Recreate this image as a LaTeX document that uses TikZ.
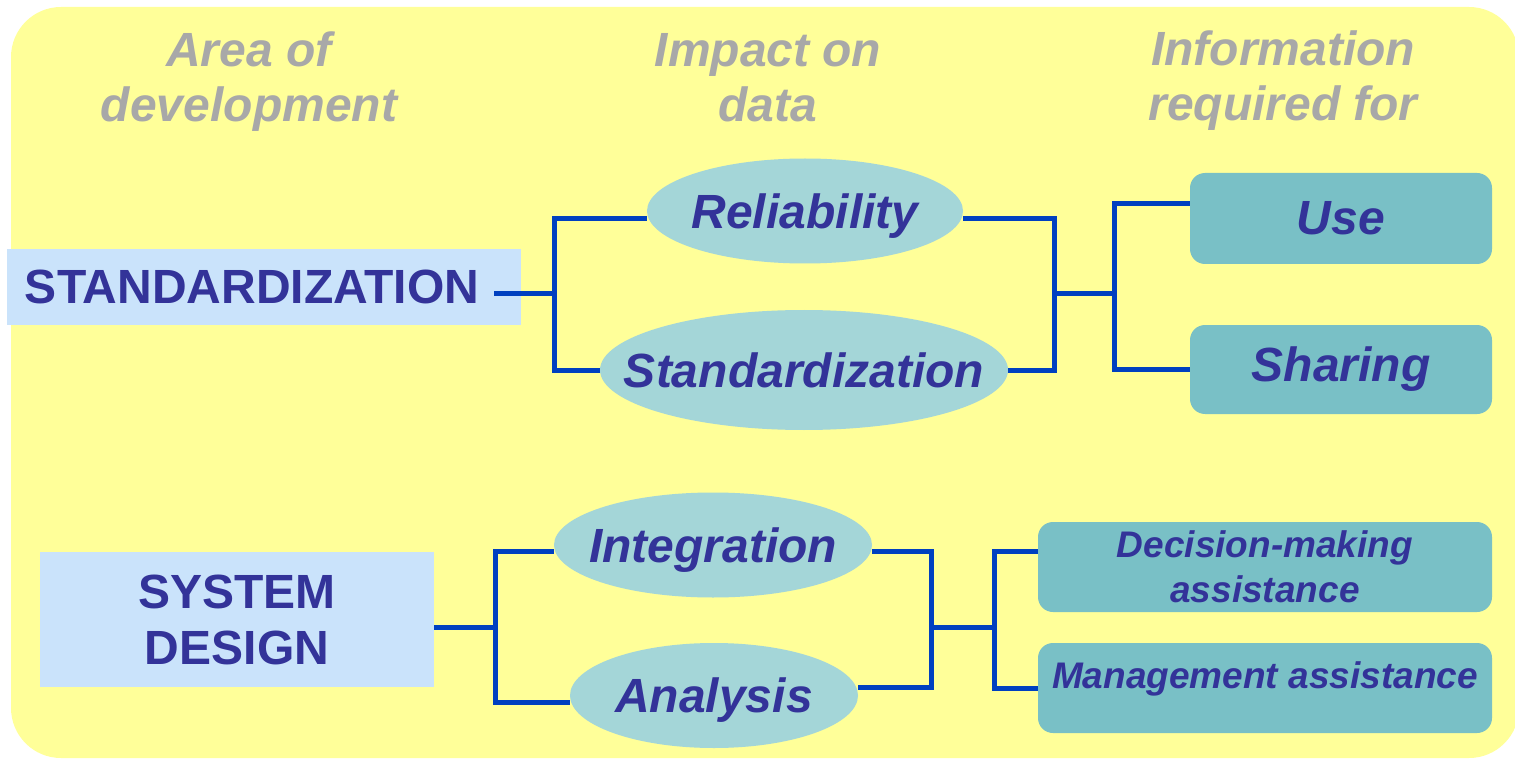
\documentclass[tikz,border=0pt]{standalone}
\usepackage{fontspec}
\setmainfont{Liberation Sans}
\usetikzlibrary{shapes.geometric}

\definecolor{bgyellow}{RGB}{255,255,153}
\definecolor{areablue}{RGB}{202,227,251}
\definecolor{ovalfill}{RGB}{164,214,216}
\definecolor{boxteal}{RGB}{121,192,198}
\definecolor{textblue}{RGB}{51,51,153}
\definecolor{headgray}{RGB}{168,168,168}
\definecolor{linkblue}{RGB}{0,64,192}

% ellipse text takes no width, so minimum width sets the oval
\newcommand{\ovaltext}[1]{\makebox[0pt]{#1}}

\tikzset{
  head/.style={text=headgray, align=center, inner sep=0pt,
    font=\fontsize{24}{27.5}\selectfont\bfseries\itshape},
  area/.style={fill=areablue, text=textblue, inner sep=0pt,
    font=\fontsize{24}{28}\selectfont\bfseries},
  impact/.style={ellipse, fill=ovalfill, text=textblue, inner sep=0pt, text depth=0pt,
    font=\fontsize{24}{27.5}\selectfont\bfseries\itshape},
  need/.style={rounded corners=7.5pt, fill=boxteal, text=textblue, inner sep=0pt,
    align=center, font=\fontsize{24}{27.5}\selectfont\bfseries\itshape},
  smallneed/.style={need, minimum width=227pt, minimum height=45pt,
    font=\fontsize{18.5}{22.5}\selectfont\bfseries\itshape},
  link/.style={draw=linkblue, line width=2.5pt},
}

\begin{document}
\begin{tikzpicture}[x=0.5pt,y=-0.5pt]
\useasboundingbox (0,0) rectangle (1515,759);
\fill[bgyellow, rounded corners=25pt] (11,7) rectangle (1519,758);

% column titles
\node[head] (hArea) at (249,82) {Area of\\development};
\node[head] (hImpact) at (768,78) {Impact on\\data};
\node[head] (hInfo) at (1283,81) {Information\\required for};

% standardization branch
\node[area, text width=239pt, inner xsep=9pt, minimum height=38pt, align=left] (stdz) at (264,287) {STANDARDIZATION};
\node[impact, minimum width=158pt, minimum height=52.5pt] (rel) at (805,211) {\ovaltext{Reliability}};
\node[impact, minimum width=204pt, minimum height=60pt] (stz) at (804,370) {\ovaltext{Standardization}};
\node[need, minimum width=151pt, minimum height=45.5pt] (use) at (1341,218.5) {Use};
\node[need, minimum width=151pt, minimum height=44.5pt] (shr) at (1341,369.5) {Sharing};

\coordinate (f1) at (554,294);
\coordinate (f2) at (1054,294);
\coordinate (f3) at (1114,294);
\draw[link] ([xshift=-13.5pt]stdz.east |- f1) -- (f1);
\draw[link] ([yshift=-4pt]rel.west) -| (f1) |- (stz.west);
\draw[link] ([yshift=-4pt]rel.east) -| (f2) |- (stz.east);
\draw[link] (f2) -- (f3);
\draw[link] ([yshift=7.5pt]use.west) -| (f3) |- (shr.west);

% system design branch
\node[area, align=center, minimum width=197pt, minimum height=67.5pt] (sysd) at (237,619.5) {SYSTEM\\DESIGN};
\node[impact, minimum width=159pt, minimum height=52.5pt] (intg) at (713,545) {\ovaltext{Integration}};
\node[impact, minimum width=144pt, minimum height=52.5pt] (anal) at (714,695.5) {\ovaltext{Analysis}};
\node[smallneed] (dec) at (1265,567) {Decision-making\\assistance};
\node[smallneed, text depth=13pt] (mgmt) at (1265,688) {Management assistance};

\coordinate (f4) at (495,627);
\coordinate (f5) at (931,627);
\coordinate (f6) at (994,627);
\draw[link] (sysd.east |- f4) -- (f4);
\draw[link] ([yshift=-3pt]intg.west) -| (f4) |- ([yshift=-3.25pt]anal.west);
\draw[link] ([yshift=-3pt]intg.east) -| (f5) |- ([yshift=4.25pt]anal.east);
\draw[link] (f5) -- (f6);
\draw[link] ([yshift=8pt]dec.west) -| (f6) |- (mgmt.west);
\end{tikzpicture}
\end{document}
